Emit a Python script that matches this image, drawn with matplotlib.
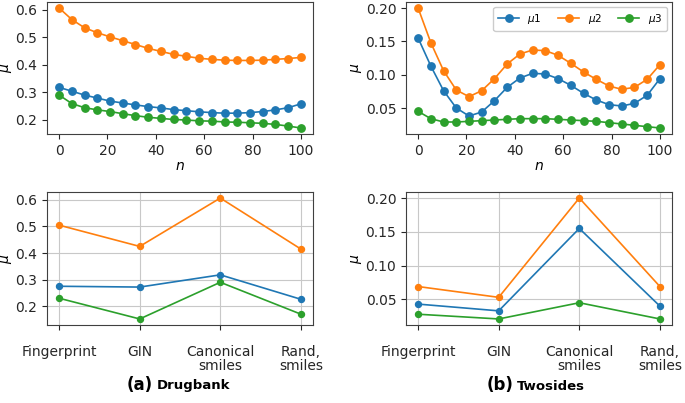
import numpy as np
import matplotlib
matplotlib.use("Agg")
import matplotlib.pyplot as plt

n = np.linspace(0, 100, 20)

drug_mu1 = [0.318, 0.304, 0.290, 0.279, 0.268, 0.261, 0.254, 0.248, 0.243, 0.237,
            0.233, 0.229, 0.226, 0.224, 0.224, 0.226, 0.230, 0.236, 0.244, 0.258]
drug_mu2 = [0.607, 0.565, 0.535, 0.517, 0.502, 0.488, 0.474, 0.460, 0.449, 0.438,
            0.431, 0.424, 0.420, 0.417, 0.416, 0.416, 0.417, 0.420, 0.423, 0.427]
drug_mu3 = [0.290, 0.259, 0.244, 0.236, 0.230, 0.222, 0.215, 0.209, 0.205, 0.201,
            0.199, 0.196, 0.195, 0.192, 0.191, 0.189, 0.187, 0.183, 0.177, 0.170]

two_mu1 = [0.155, 0.113, 0.076, 0.050, 0.038, 0.044, 0.061, 0.081, 0.095, 0.102,
           0.101, 0.094, 0.084, 0.072, 0.062, 0.055, 0.053, 0.057, 0.069, 0.094]
two_mu2 = [0.200, 0.148, 0.106, 0.077, 0.067, 0.076, 0.094, 0.116, 0.131, 0.137,
           0.136, 0.129, 0.117, 0.104, 0.093, 0.083, 0.078, 0.081, 0.093, 0.115]
two_mu3 = [0.045, 0.034, 0.029, 0.029, 0.030, 0.031, 0.032, 0.033, 0.034, 0.034,
           0.034, 0.033, 0.032, 0.031, 0.030, 0.028, 0.026, 0.024, 0.022, 0.020]

methods = ["Fingerprint", "GIN", "Canonical\nsmiles", "Rand,\nsmiles"]
drug_m_mu1 = [0.275, 0.272, 0.318, 0.226]
drug_m_mu2 = [0.505, 0.425, 0.607, 0.415]
drug_m_mu3 = [0.230, 0.152, 0.290, 0.170]
two_m_mu1 = [0.043, 0.033, 0.155, 0.040]
two_m_mu2 = [0.069, 0.053, 0.200, 0.069]
two_m_mu3 = [0.028, 0.021, 0.045, 0.021]

drug_yticks = [0.2, 0.3, 0.4, 0.5, 0.6]
two_yticks = [0.05, 0.10, 0.15, 0.20]

labels = [r"$\mu1$", r"$\mu2$", r"$\mu3$"]
colors = ["#1f77b4", "#ff7f0e", "#2ca02c"]

plt.rcParams['font.size'] = 10
plt.rcParams['font.family'] = ['DejaVu Sans']

fig = plt.figure(figsize=(6.85, 4.03), dpi=100)
W, H = 685, 403
def ax_at(x0, y0, x1, y1):
    return fig.add_axes([x0 / W, 1 - y1 / H, (x1 - x0) / W, (y1 - y0) / H])

ax1 = ax_at(47, 2, 313, 134)
ax2 = ax_at(406, 2, 672, 134)
ax3 = ax_at(47, 192, 313, 325)
ax4 = ax_at(406, 192, 672, 325)

for ax, series in ((ax1, (drug_mu1, drug_mu2, drug_mu3)), (ax2, (two_mu1, two_mu2, two_mu3))):
    for s, c, l in zip(series, colors, labels):
        ax.plot(n, s, '-o', color=c, ms=5.3, lw=1.2, label=l)
    ax.set_xlabel(r"$n$", labelpad=1)
    ax.set_xticks([0, 20, 40, 60, 80, 100])

ax2.legend(loc='upper right', ncol=3, fontsize=7.5, handlelength=2.0,
           columnspacing=1.6, borderpad=0.45, framealpha=1)

xi = np.arange(len(methods))
for ax, series in ((ax3, (drug_m_mu1, drug_m_mu2, drug_m_mu3)), (ax4, (two_m_mu1, two_m_mu2, two_m_mu3))):
    for s, c, l in zip(series, colors, labels):
        ax.plot(xi, s, '-o', color=c, ms=4.3, lw=1.2, label=l)
    ax.set_xticks(xi)
    ax.set_xticklabels(methods, linespacing=1.0)
    ax.tick_params(axis='x', pad=11)
    ax.grid(True, color='#c8c8c8', lw=0.8)

ax1.set_yticks(drug_yticks)
ax3.set_yticks(drug_yticks)
ax2.set_yticks(two_yticks)
ax4.set_yticks(two_yticks)

for ax in (ax1, ax2, ax3, ax4):
    ax.set_ylabel(r"$\mu$", labelpad=1)
    for sp in ax.spines.values():
        sp.set_color('#404040')
    ax.tick_params(colors='#262626')

fig.text(153 / W, 1 - 385 / H, "(a)", fontsize=12, fontweight='bold', ha='right', va='center')
fig.text(157 / W, 1 - 386 / H, "Drugbank", fontsize=9.5, fontweight='bold', ha='left', va='center')
fig.text(513 / W, 1 - 385 / H, "(b)", fontsize=12, fontweight='bold', ha='right', va='center')
fig.text(517 / W, 1 - 386 / H, "Twosides", fontsize=9.5, fontweight='bold', ha='left', va='center')

fig.savefig("out.png", dpi=100)
